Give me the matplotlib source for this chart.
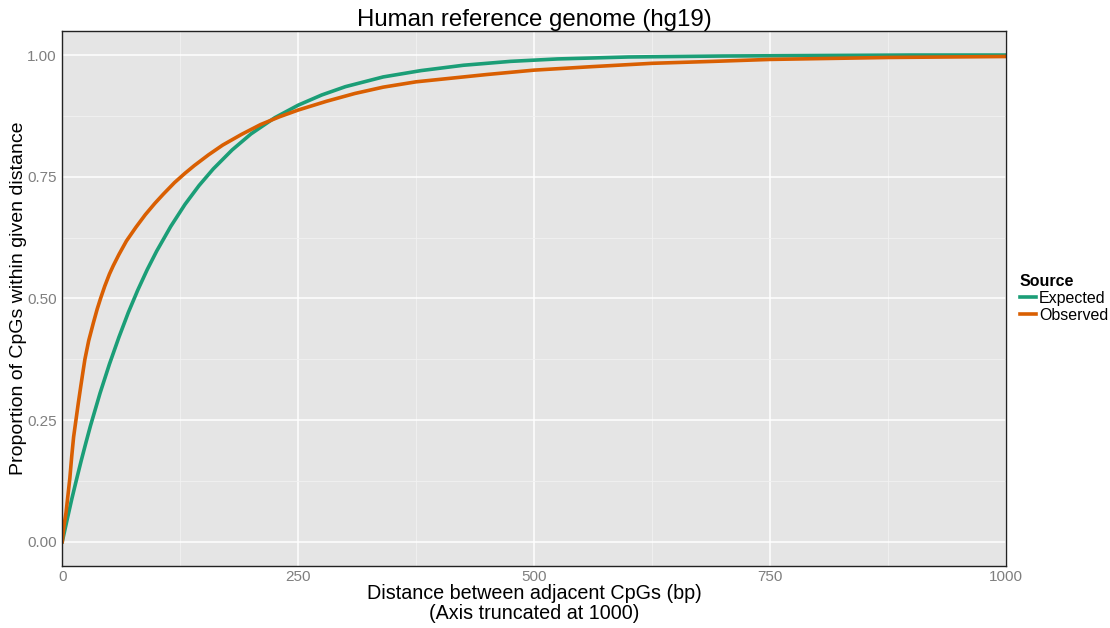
import matplotlib
matplotlib.use("Agg")
import matplotlib.pyplot as plt
from matplotlib.ticker import MultipleLocator, FormatStrFormatter

plt.rcParams['font.family'] = ['Liberation Sans', 'DejaVu Sans']

# Distance between adjacent CpGs (bp) and cumulative proportion
exp_dist = [0, 5, 10, 15, 20, 25, 30, 40, 50, 60, 70, 80, 90, 100, 115, 130, 145,
            160, 180, 200, 225, 250, 275, 300, 340, 380, 425, 475, 525, 600, 700,
            800, 900, 1000]
exp_prop = [0.0, 0.044, 0.087, 0.127, 0.166, 0.203, 0.239, 0.305, 0.365, 0.420,
            0.471, 0.517, 0.559, 0.597, 0.648, 0.693, 0.732, 0.766, 0.805, 0.838,
            0.871, 0.897, 0.918, 0.935, 0.955, 0.968, 0.979, 0.987, 0.992, 0.996,
            0.998, 0.999, 1.0, 1.0]

obs_dist = [0, 1, 2, 4, 6, 8, 10, 12, 14.5, 17, 19.5, 22, 24, 28, 33, 37, 40.6, 45,
            50, 54, 60, 68, 78, 88, 98, 107, 119, 130, 140, 155, 170, 190, 210, 230,
            250, 280, 310, 340, 375, 410, 450, 500, 560, 625, 690, 750, 875, 1000]
obs_prop = [0.0, 0.02, 0.035, 0.06, 0.095, 0.13, 0.175, 0.215, 0.25, 0.285, 0.318,
            0.35, 0.375, 0.413, 0.45, 0.478, 0.50, 0.525, 0.55, 0.567, 0.59, 0.618,
            0.646, 0.672, 0.695, 0.714, 0.738, 0.757, 0.773, 0.795, 0.815, 0.837,
            0.857, 0.873, 0.887, 0.905, 0.921, 0.934, 0.945, 0.952, 0.96, 0.969,
            0.976, 0.983, 0.987, 0.991, 0.995, 0.997]

fig = plt.figure(figsize=(11.1, 6.28), dpi=100)
ax = fig.add_axes([0.0561, 0.0987, 0.8502, 0.8524])
ax.set_facecolor('#e5e5e5')

ax.plot(exp_dist, exp_prop, color='#1b9e77', lw=2.6, label='Expected')
ax.plot(obs_dist, obs_prop, color='#d95f02', lw=2.6, label='Observed')

ax.set_xlim(0, 1000)
ax.set_ylim(-0.05, 1.05)
ax.xaxis.set_major_locator(MultipleLocator(250))
ax.xaxis.set_minor_locator(MultipleLocator(125))
ax.yaxis.set_major_locator(MultipleLocator(0.25))
ax.yaxis.set_minor_locator(MultipleLocator(0.125))
ax.yaxis.set_major_formatter(FormatStrFormatter('%.2f'))
ax.xaxis.set_major_formatter(FormatStrFormatter('%d'))
ax.grid(which='major', color='white', lw=1.1)
ax.grid(which='minor', color='#f2f2f2', lw=0.6)
ax.set_axisbelow(True)
ax.tick_params(which='both', length=0, labelsize=11, labelcolor='#7f7f7f')
ax.tick_params(axis='x', pad=3)
ax.tick_params(axis='y', pad=4)
for s in ax.spines.values():
    s.set_color('#222222')
    s.set_linewidth(1.0)

ax.set_title('Human reference genome (hg19)', fontsize=17.3, pad=3)
ax.set_xlabel('Distance between adjacent CpGs (bp)\n(Axis truncated at 1000)',
              fontsize=14.2, labelpad=0, linespacing=1.05)
ax.set_ylabel('Proportion of CpGs within given distance', fontsize=14, labelpad=0)

leg = ax.legend(title='Source', loc='center left', bbox_to_anchor=(1.003, 0.50),
                frameon=False, fontsize=11.5, handlelength=1.0, handletextpad=0.2,
                labelspacing=0.12, borderaxespad=0.3)
leg.get_title().set_fontweight('bold')
leg.get_title().set_fontsize(11.5)
leg._legend_box.align = 'left'

fig.savefig('out.png', dpi=100)
